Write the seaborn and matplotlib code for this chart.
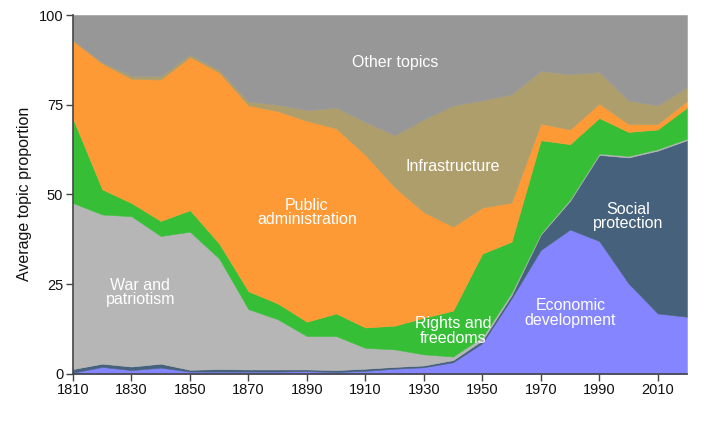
import matplotlib
matplotlib.use("Agg")
import matplotlib.pyplot as plt
import seaborn as sns
import numpy as np
import pandas as pd

# decades covered by the chart
years = list(range(1810, 2030, 10))

# topic proportions per decade (stacked from bottom to top)
economic = [0.3, 1.9, 1.0, 1.7, 0.6, 0.6, 0.6, 0.6, 0.7, 0.5, 0.8,
            1.4, 1.8, 3.2, 8.5, 21.0, 34.5, 40.2, 37.0, 25.2, 16.8, 15.9]
social = [1.0, 0.9, 1.0, 1.1, 0.5, 0.7, 0.6, 0.6, 0.5, 0.5, 0.6,
          0.5, 0.5, 0.6, 0.8, 0.9, 4.3, 8.0, 24.0, 35.1, 45.4, 49.2]
war = [46.3, 41.6, 41.9, 35.6, 38.5, 30.8, 16.8, 14.0, 9.3, 9.5, 5.8,
       4.9, 3.1, 1.0, 0.9, 0.7, 0.3, 0.4, 0.4, 0.4, 0.4, 0.4]
rights = [23.5, 7.0, 3.7, 4.2, 6.0, 4.2, 5.0, 4.4, 4.0, 6.3, 5.7,
          6.6, 10.2, 12.8, 23.3, 14.2, 26.0, 15.4, 9.9, 6.7, 5.5, 8.7]
public = [21.7, 35.1, 34.6, 39.4, 42.7, 47.7, 51.8, 53.6, 56.0, 51.6, 48.1,
          38.6, 29.4, 23.4, 12.8, 10.9, 4.6, 4.1, 4.0, 2.2, 1.5, 1.8]
infra = [0.2, 0.3, 0.9, 1.0, 0.7, 0.7, 1.1, 1.8, 3.0, 5.8, 9.2,
         14.5, 25.9, 33.8, 29.9, 30.2, 14.7, 15.4, 8.8, 6.6, 5.2, 3.9]
other = [7.0, 13.2, 16.9, 17.0, 11.0, 15.3, 24.1, 25.0, 26.5, 25.8, 29.8,
         33.5, 29.1, 25.2, 23.8, 22.1, 15.6, 16.5, 15.9, 23.8, 25.2, 20.1]

topics = ["Economic development", "Social protection", "War and patriotism",
          "Rights and freedoms", "Public administration", "Infrastructure",
          "Other topics"]
colors = ["#8585ff", "#46617b", "#b6b6b6", "#36bf36", "#fe9a35", "#ae9e6b", "#979797"]

df = pd.DataFrame({"year": years, topics[0]: economic, topics[1]: social,
                   topics[2]: war, topics[3]: rights, topics[4]: public,
                   topics[5]: infra, topics[6]: other})

sns.set_theme(style="ticks")
plt.rcParams['font.family'] = ['Liberation Sans', 'DejaVu Sans']

fig = plt.figure(figsize=(7.06, 4.24), dpi=100)
ax = fig.add_axes([0.1034, 0.1186, 0.8696, 0.846])

ax.stackplot(df["year"], [df[t] for t in topics], colors=colors,
             edgecolor="face", linewidth=0.4)

# in-chart labels (text, year, value)
labels = [("Other topics", 1920.3, 86.8),
          ("Infrastructure", 1940, 57.9),
          ("Public\nadministration", 1890, 45.0),
          ("War and\npatriotism", 1833, 22.7),
          ("Rights and\nfreedoms", 1940, 11.9),
          ("Economic\ndevelopment", 1980.2, 16.9),
          ("Social\nprotection", 2000, 43.9)]
for txt, x, y in labels:
    ax.text(x, y, txt, color="white", fontsize=11.5, ha="center", va="center",
            linespacing=0.95)

ax.set_xlim(1810, 2020)
ax.set_ylim(0, 100)
ax.set_xticks(range(1810, 2020, 20))
ax.set_yticks([0, 25, 50, 75, 100])
ax.set_ylabel("Average topic proportion", fontsize=11.5, color="#111111", labelpad=5)
ax.set_xlabel("")

for side in ["top", "right"]:
    ax.spines[side].set_visible(False)
for side in ["left", "bottom"]:
    ax.spines[side].set_color("#444444")
    ax.spines[side].set_linewidth(1.2)
ax.tick_params(axis="both", direction="out", length=5, width=1, color="#444444",
               labelsize=10.5, labelcolor="#111111", pad=2)

fig.savefig("out.png", dpi=100)
